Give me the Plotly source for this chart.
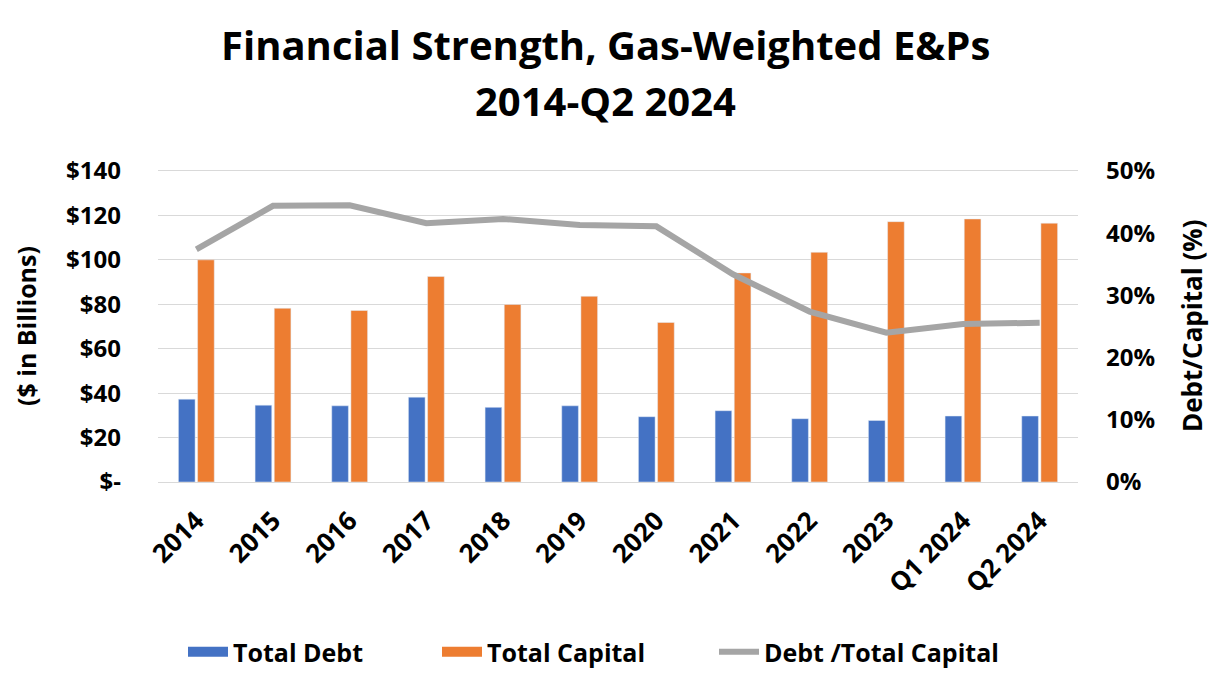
import plotly.graph_objects as go

# data
periods = ['2014', '2015', '2016', '2017', '2018', '2019', '2020',
           '2021', '2022', '2023', 'Q1 2024', 'Q2 2024']
total_debt = [37.3, 34.6, 34.3, 38.2, 33.6, 34.3, 29.4, 32.1, 28.5, 27.7, 29.7, 29.7]
total_capital = [100.0, 78.2, 77.2, 92.5, 79.9, 83.6, 71.8, 94.1, 103.4, 117.2, 118.4, 116.5]
debt_to_capital = [37.4, 44.4, 44.5, 41.6, 42.3, 41.3, 41.1, 33.4, 27.4, 24.0, 25.4, 25.6]

left_ticks = [0, 20, 40, 60, 80, 100, 120, 140]
left_labels = ['$-' if v == 0 else f'${v}' for v in left_ticks]
right_ticks = [0, 10, 20, 30, 40, 50]
right_labels = [f'{v}%' for v in right_ticks]

BLUE, ORANGE, GREY = '#4472C4', '#ED7D31', '#A5A5A5'
FONT = 'Open Sans, Lato, sans-serif'

# the page body adds 8px around the figure, so size it a bit smaller
W, H = 1213, 680
L, R, T, B = 150, 143, 163, 206
plot_w = W - L - R
plot_h = H - T - B


def px(x):
    # reference-picture x pixel -> paper coordinate
    return (x - 8 - L) / plot_w


def py(y):
    # reference-picture y pixel -> paper coordinate
    return (H - B - (y - 8)) / plot_h


fig = go.Figure()
fig.add_trace(go.Bar(x=periods, y=total_debt, name='Total Debt',
                     marker_color=BLUE, showlegend=False))
fig.add_trace(go.Bar(x=periods, y=total_capital, name='Total Capital',
                     marker_color=ORANGE, showlegend=False))
fig.add_trace(go.Scatter(x=periods, y=debt_to_capital, name='Debt /Total Capital',
                         yaxis='y2', mode='lines', showlegend=False,
                         line=dict(color=GREY, width=6)))

# legend keys (wide swatches like the original), one legend box per key
legend_keys = [('Total Debt', BLUE, 16, 'legend', 189),
               ('Total Capital', ORANGE, 16, 'legend2', 443),
               ('Debt /Total Capital', GREY, 6, 'legend3', 720)]
legend_boxes = {}
for name, color, width, leg, x0 in legend_keys:
    fig.add_trace(go.Scatter(x=[None], y=[None], mode='lines', name=name,
                             legend=leg, line=dict(color=color, width=width)))
    legend_boxes[leg] = dict(orientation='h', x=px(x0 - 6), xanchor='left',
                             y=py(652), yanchor='middle', itemwidth=40,
                             font=dict(size=25, family=FONT, weight='bold'))

grid = '#D9D9D9'
ytick_font = dict(size=24, family=FONT, weight='bold', color='black')
fig.update_layout(
    width=W, height=H,
    margin=dict(l=L, r=R, t=T, b=B),
    plot_bgcolor='white', paper_bgcolor='white',
    font=dict(family=FONT, color='black', size=22),
    barmode='group', bargap=0.5, bargroupgap=0.13,
    showlegend=True,
    **legend_boxes,
    xaxis=dict(tickangle=-45, showgrid=False, showline=True, mirror=True,
               linecolor=grid, linewidth=1, ticks='', ticklabelstandoff=12,
               automargin=False,
               tickfont=dict(size=26, family=FONT, weight='bold', color='black')),
    yaxis=dict(range=[0, 140], tickvals=left_ticks, ticktext=left_labels,
               showgrid=True, gridcolor=grid, gridwidth=1, zeroline=False,
               ticks='', ticklabelstandoff=36, automargin=False,
               tickfont=ytick_font),
    yaxis2=dict(range=[0, 50], tickvals=right_ticks, ticktext=right_labels,
                overlaying='y', side='right', showgrid=False, zeroline=False,
                ticks='', ticklabelstandoff=27, automargin=False,
                tickfont=ytick_font),
    annotations=[
        dict(text='<b>Financial Strength, Gas-Weighted E&Ps</b>',
             xref='paper', yref='paper', x=px(605), y=py(44),
             showarrow=False, xanchor='center', yanchor='middle',
             font=dict(size=40, family=FONT)),
        dict(text='<b>2014-Q2 2024</b>',
             xref='paper', yref='paper', x=px(605), y=py(100),
             showarrow=False, xanchor='center', yanchor='middle',
             font=dict(size=40, family=FONT)),
        dict(text='<b>($ in Billions)</b>', textangle=-90,
             xref='paper', yref='paper', x=px(26), y=py(326),
             showarrow=False, xanchor='center', yanchor='middle',
             font=dict(size=25, family=FONT)),
        dict(text='<b>Debt/Capital (%)</b>', textangle=-90,
             xref='paper', yref='paper', x=px(1192), y=py(326),
             showarrow=False, xanchor='center', yanchor='middle',
             font=dict(size=26, family=FONT)),
    ],
)

fig.write_html('out.html')
